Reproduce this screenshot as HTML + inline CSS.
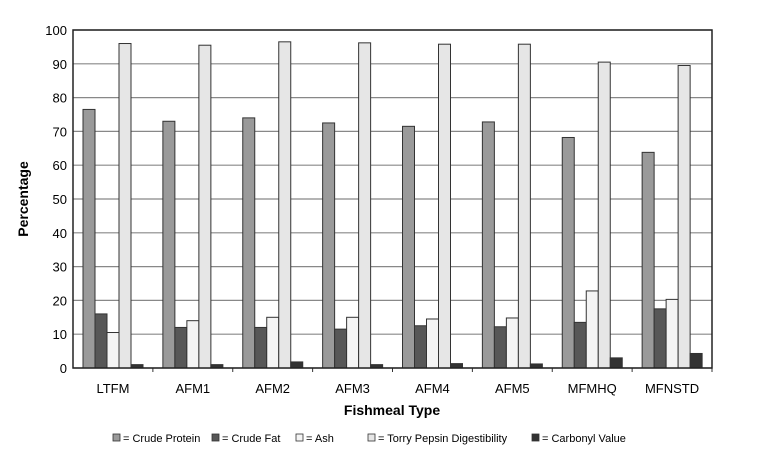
<!DOCTYPE html>
<html><head><meta charset="utf-8"><style>
body{margin:0;background:#fff;}
text{font-family:"Liberation Sans",Arial,sans-serif;fill:#000;}
</style></head><body>
<svg width="768" height="454" id="chart">
<g id="grid"></g><g id="bars"></g><g id="axes"></g>
<text x="28" y="199" transform="rotate(-90 28 199)" text-anchor="middle" font-size="14" font-weight="bold">Percentage</text>
<text x="392" y="415" text-anchor="middle" font-size="14" font-weight="bold">Fishmeal Type</text>
<g id="legend"></g>
</svg>
<script>
const categories=["LTFM","AFM1","AFM2","AFM3","AFM4","AFM5","MFMHQ","MFNSTD"];
const crudeProtein=[76.5,73,74,72.5,71.5,72.8,68.2,63.8];
const crudeFat=[16,12,12,11.5,12.5,12.2,13.5,17.5];
const ash=[10.5,14,15,15,14.5,14.8,22.8,20.3];
const torry=[96,95.5,96.5,96.2,95.8,95.8,90.5,89.5];
const carbonyl=[1,1,1.8,1,1.3,1.2,3,4.3];
const yTicks=[0,10,20,30,40,50,60,70,80,90,100];
const seriesNames=["Crude Protein","Crude Fat","Ash","Torry Pepsin Digestibility","Carbonyl Value"];
const series=[crudeProtein,crudeFat,ash,torry,carbonyl];
const colors=["#9a9a9a","#575757","#f4f4f4","#e6e6e6","#333"];
const NS="http://www.w3.org/2000/svg";
const L=73,R=712,T=30,B=368;
const y=v=>B-(v/100)*(B-T);
const gw=(R-L)/categories.length;
const x=i=>L+i*gw;
function mk(tag,attrs,parent){const e=document.createElementNS(NS,tag);for(const k in attrs)e.setAttribute(k,attrs[k]);document.getElementById(parent).appendChild(e);return e;}
yTicks.forEach(t=>{
 const g=mk("line",{x1:L,x2:R,y1:y(t),y2:y(t),stroke:"#888","stroke-width":1.2},"grid");
 
 
 const tx=mk("text",{x:L-6,y:y(t)+5,"text-anchor":"end","font-size":13},"axes");
 tx.textContent=t;
 
 
});
const bw=12,off=10;
categories.forEach((c,i)=>{
 series.forEach((s,j)=>{
  const r=mk("rect",{x:x(i)+off+j*bw,y:y(s[i]),width:bw,height:B-y(s[i]),fill:colors[j],stroke:"#333","stroke-width":1},"bars");
  
  
 });
 const tx=mk("text",{x:x(i)+gw/2,y:393,"text-anchor":"middle","font-size":13},"axes");
 tx.textContent=c;
 
 
 const tk=mk("line",{x1:x(i+1),x2:x(i+1),y1:B,y2:B+4,stroke:"#333"},"axes");
 
 
});
const fr=mk("rect",{x:L,y:T,width:R-L,height:B-T,fill:"none",stroke:"#222","stroke-width":1.5},"axes");


const lx=[113,212,296,368,532];
seriesNames.forEach((n,j)=>{
 const sw=mk("rect",{x:lx[j],y:434,width:7,height:7,fill:colors[j],stroke:"#333","stroke-width":0.8},"legend");
 
 
 const t=mk("text",{x:lx[j]+10,y:442,"font-size":11},"legend");
 t.textContent="= "+n;
 
 
});
</script>
</body></html>
